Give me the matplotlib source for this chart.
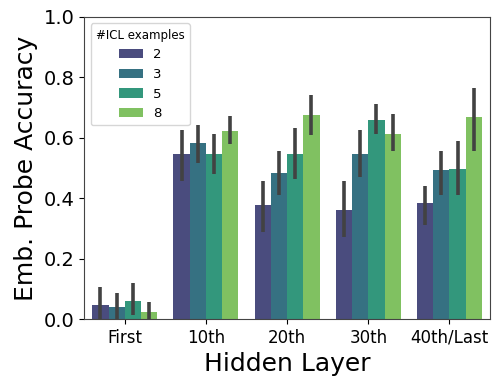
import numpy as np
import matplotlib
matplotlib.use("Agg")
import matplotlib.pyplot as plt
import seaborn as sns

layers = ["First", "10th", "20th", "30th", "40th/Last"]
n_examples = ["2", "3", "5", "8"]

# mean accuracy per layer, one list per #ICL examples
acc = {
    "2": [0.046, 0.546, 0.376, 0.361, 0.384],
    "3": [0.039, 0.583, 0.484, 0.546, 0.492],
    "5": [0.061, 0.546, 0.546, 0.660, 0.498],
    "8": [0.022, 0.622, 0.676, 0.614, 0.668],
}
# confidence interval bounds
ci_lo = {
    "2": [0.000, 0.456, 0.287, 0.272, 0.310],
    "3": [0.000, 0.517, 0.410, 0.471, 0.410],
    "5": [0.013, 0.480, 0.463, 0.611, 0.410],
    "8": [0.000, 0.578, 0.610, 0.556, 0.557],
}
ci_hi = {
    "2": [0.105, 0.627, 0.458, 0.458, 0.442],
    "3": [0.088, 0.642, 0.557, 0.627, 0.557],
    "5": [0.118, 0.611, 0.634, 0.711, 0.589],
    "8": [0.057, 0.672, 0.741, 0.680, 0.766],
}

colors = [sns.desaturate(c, 0.75) for c in sns.color_palette("viridis", 4)]

fig = plt.figure(figsize=(4.98, 3.84), dpi=100)
ax = fig.add_axes([0.169, 0.169, 0.815, 0.787])

x = np.arange(len(layers))
w = 0.2
for i, k in enumerate(n_examples):
    pos = x - 0.3 + i * w
    m = np.array(acc[k])
    ax.bar(pos, m, width=w, color=colors[i], label=k)
    for p, lo, hi in zip(pos, ci_lo[k], ci_hi[k]):
        ax.plot([p, p], [lo, hi], color=".26", lw=2.6, solid_capstyle="butt")

ax.set_xlim(-0.5, 4.5)
ax.set_ylim(0, 1.0)
ax.set_xticks(x)
ax.set_xticklabels(layers, fontsize=12)
ax.set_yticks([0, 0.2, 0.4, 0.6, 0.8, 1.0])
ax.set_yticklabels(["0.0", "0.2", "0.4", "0.6", "0.8", "1.0"], fontsize=14)
ax.set_ylabel("Emb. Probe Accuracy", fontsize=18)
ax.set_xlabel("Hidden Layer", fontsize=18)
for s in ax.spines.values():
    s.set_color("#444444")
ax.legend(title="#ICL examples", fontsize=9.5, title_fontsize=8.5, loc="upper left",
          handlelength=1.8)

fig.savefig("out.png", dpi=100)
